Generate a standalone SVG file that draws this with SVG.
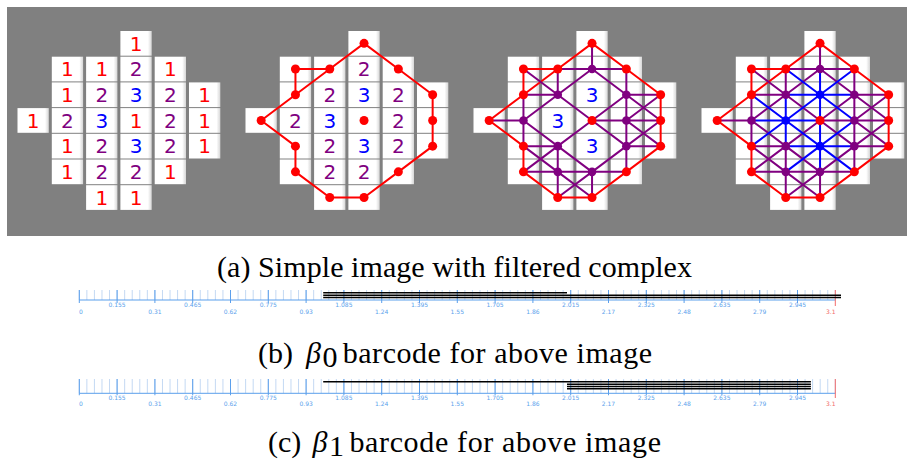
<svg xmlns="http://www.w3.org/2000/svg" xmlns:xlink="http://www.w3.org/1999/xlink" width="907" height="465" viewBox="0 0 907 465">
<style>
.cell{fill:url(#cg)}
.d{font-family:"DejaVu Sans",sans-serif;font-size:20px;text-anchor:middle}
.r{fill:#ff0000}.p{fill:#800080}.b{fill:#0000ff}
.er{fill:none;stroke:#ff0000;stroke-width:2;stroke-linejoin:round;stroke-linecap:round}
.ep{fill:none;stroke:#800080;stroke-width:2;stroke-linejoin:round;stroke-linecap:round}
.eb{fill:none;stroke:#0000ff;stroke-width:2;stroke-linejoin:round;stroke-linecap:round}
.cap{font-family:"Liberation Serif",serif;font-size:30px;fill:#000}
.lab{font-family:"DejaVu Sans",sans-serif;font-size:6px;fill:#5b9fec;text-anchor:middle}
.bar{stroke:#000;stroke-width:1.5}
</style>
<defs>
<linearGradient id="cg" x1="0" x2="1" y1="0" y2="0"><stop offset="0.88" stop-color="#ffffff"/><stop offset="1" stop-color="#d6d6d6"/></linearGradient>
<g id="grid">
<rect class="cell" x="102.9" y="31" width="31.3" height="24.7"/>
<rect class="cell" x="34.3" y="56.7" width="31.3" height="24.7"/><rect class="cell" x="68.6" y="56.7" width="31.3" height="24.7"/><rect class="cell" x="102.9" y="56.7" width="31.3" height="24.7"/><rect class="cell" x="137.2" y="56.7" width="31.3" height="24.7"/>
<rect class="cell" x="34.3" y="82.4" width="31.3" height="24.7"/><rect class="cell" x="68.6" y="82.4" width="31.3" height="24.7"/><rect class="cell" x="102.9" y="82.4" width="31.3" height="24.7"/><rect class="cell" x="137.2" y="82.4" width="31.3" height="24.7"/><rect class="cell" x="171.5" y="82.4" width="31.3" height="24.7"/>
<rect class="cell" x="0" y="108.1" width="31.3" height="24.7"/><rect class="cell" x="34.3" y="108.1" width="31.3" height="24.7"/><rect class="cell" x="68.6" y="108.1" width="31.3" height="24.7"/><rect class="cell" x="102.9" y="108.1" width="31.3" height="24.7"/><rect class="cell" x="137.2" y="108.1" width="31.3" height="24.7"/><rect class="cell" x="171.5" y="108.1" width="31.3" height="24.7"/>
<rect class="cell" x="34.3" y="133.8" width="31.3" height="24.7"/><rect class="cell" x="68.6" y="133.8" width="31.3" height="24.7"/><rect class="cell" x="102.9" y="133.8" width="31.3" height="24.7"/><rect class="cell" x="137.2" y="133.8" width="31.3" height="24.7"/><rect class="cell" x="171.5" y="133.8" width="31.3" height="24.7"/>
<rect class="cell" x="34.3" y="159.5" width="31.3" height="24.7"/><rect class="cell" x="68.6" y="159.5" width="31.3" height="24.7"/><rect class="cell" x="102.9" y="159.5" width="31.3" height="24.7"/><rect class="cell" x="137.2" y="159.5" width="31.3" height="24.7"/>
<rect class="cell" x="68.6" y="185.2" width="31.3" height="24.7"/><rect class="cell" x="102.9" y="185.2" width="31.3" height="24.7"/>
</g>
<path id="eR" class="er" d="M118.55,43.35L152.85,69.05L187.15,94.75L187.15,146.15L152.85,171.85L118.55,197.55L84.25,197.55L49.95,171.85L49.95,146.15L15.65,120.45L49.95,94.75L84.25,69.05ZM84.25,69.05L49.95,69.05L49.95,94.75"/>
<path id="eP" class="ep" d="M84.25,69.05H152.85M49.95,94.75H84.25M152.85,94.75H187.15M15.65,120.45H49.95M118.55,120.45H187.15M49.95,146.15H84.25M152.85,146.15H187.15M49.95,171.85H152.85M49.95,94.75V146.15M84.25,69.05V94.75M84.25,146.15V197.55M118.55,43.35V69.05M118.55,171.85V197.55M152.85,69.05V171.85M49.95,69.05L84.25,94.75M118.55,69.05L152.85,94.75M84.25,94.75L118.55,120.45M152.85,94.75L187.15,120.45M49.95,120.45L84.25,146.15L118.55,171.85M118.55,120.45L152.85,146.15M152.85,120.45L187.15,146.15M49.95,146.15L84.25,171.85L118.55,197.55M118.55,69.05L84.25,94.75L49.95,120.45M152.85,94.75L118.55,120.45L84.25,146.15L49.95,171.85M187.15,94.75L152.85,120.45M187.15,120.45L152.85,146.15L118.55,171.85L84.25,197.55"/>
<path id="eB" class="eb" d="M84.25,94.75H152.85M49.95,120.45H118.55M84.25,146.15H152.85M84.25,94.75V146.15M118.55,69.05V171.85M84.25,69.05L118.55,94.75L152.85,120.45M49.95,94.75L84.25,120.45L118.55,146.15L152.85,171.85M152.85,69.05L118.55,94.75L84.25,120.45L49.95,146.15M152.85,120.45L118.55,146.15L84.25,171.85"/>
<g id="vR" class="r">
<circle cx="118.55" cy="43.35" r="4.5"/><circle cx="49.95" cy="69.05" r="4.5"/><circle cx="84.25" cy="69.05" r="4.5"/><circle cx="152.85" cy="69.05" r="4.5"/><circle cx="49.95" cy="94.75" r="4.5"/><circle cx="187.15" cy="94.75" r="4.5"/><circle cx="15.65" cy="120.45" r="4.5"/><circle cx="118.55" cy="120.45" r="4.5"/><circle cx="187.15" cy="120.45" r="4.5"/><circle cx="49.95" cy="146.15" r="4.5"/><circle cx="187.15" cy="146.15" r="4.5"/><circle cx="49.95" cy="171.85" r="4.5"/><circle cx="152.85" cy="171.85" r="4.5"/><circle cx="84.25" cy="197.55" r="4.5"/><circle cx="118.55" cy="197.55" r="4.5"/>
</g>
<g id="vP" class="p">
<circle cx="118.55" cy="69.05" r="4.3"/><circle cx="84.25" cy="94.75" r="4.3"/><circle cx="152.85" cy="94.75" r="4.3"/><circle cx="49.95" cy="120.45" r="4.3"/><circle cx="152.85" cy="120.45" r="4.3"/><circle cx="84.25" cy="146.15" r="4.3"/><circle cx="152.85" cy="146.15" r="4.3"/><circle cx="84.25" cy="171.85" r="4.3"/><circle cx="118.55" cy="171.85" r="4.3"/>
</g>
<g id="vB" class="b">
<circle cx="118.55" cy="94.75" r="4.3"/><circle cx="84.25" cy="120.45" r="4.3"/><circle cx="118.55" cy="146.15" r="4.3"/>
</g>
</defs>
<rect x="7" y="7" width="900" height="229" fill="#808080"/>

<g id="panel1" transform="translate(17.5,0)">
<use xlink:href="#grid" href="#grid"/>
<g class="d">
<text class="r" x="118.55" y="50.65">1</text>
<text class="r" x="49.95" y="76.35">1</text><text class="r" x="84.25" y="76.35">1</text><text class="p" x="118.55" y="76.35">2</text><text class="r" x="152.85" y="76.35">1</text>
<text class="r" x="49.95" y="102.05">1</text><text class="p" x="84.25" y="102.05">2</text><text class="b" x="118.55" y="102.05">3</text><text class="p" x="152.85" y="102.05">2</text><text class="r" x="187.15" y="102.05">1</text>
<text class="r" x="15.65" y="127.75">1</text><text class="p" x="49.95" y="127.75">2</text><text class="b" x="84.25" y="127.75">3</text><text class="r" x="118.55" y="127.75">1</text><text class="p" x="152.85" y="127.75">2</text><text class="r" x="187.15" y="127.75">1</text>
<text class="r" x="49.95" y="153.45">1</text><text class="p" x="84.25" y="153.45">2</text><text class="b" x="118.55" y="153.45">3</text><text class="p" x="152.85" y="153.45">2</text><text class="r" x="187.15" y="153.45">1</text>
<text class="r" x="49.95" y="179.15">1</text><text class="p" x="84.25" y="179.15">2</text><text class="p" x="118.55" y="179.15">2</text><text class="r" x="152.85" y="179.15">1</text>
<text class="r" x="84.25" y="204.85">1</text><text class="r" x="118.55" y="204.85">1</text>
</g>
</g>

<g id="panel2" transform="translate(245.5,0)">
<use xlink:href="#grid" href="#grid"/>
<g class="d">
<text class="p" x="118.55" y="76.35">2</text>
<text class="p" x="84.25" y="102.05">2</text><text class="b" x="118.55" y="102.05">3</text><text class="p" x="152.85" y="102.05">2</text>
<text class="p" x="49.95" y="127.75">2</text><text class="b" x="84.25" y="127.75">3</text><text class="p" x="152.85" y="127.75">2</text>
<text class="p" x="84.25" y="153.45">2</text><text class="b" x="118.55" y="153.45">3</text><text class="p" x="152.85" y="153.45">2</text>
<text class="p" x="84.25" y="179.15">2</text><text class="p" x="118.55" y="179.15">2</text>
</g>
<g id="p2-edges"><use xlink:href="#eR" href="#eR"/></g>
<use xlink:href="#vR" href="#vR"/>
</g>

<g id="panel3" transform="translate(473.5,0)">
<use xlink:href="#grid" href="#grid"/>
<g class="d">
<text class="b" x="118.55" y="102.05">3</text><text class="b" x="84.25" y="127.75">3</text><text class="b" x="118.55" y="153.45">3</text>
</g>
<g id="p3-edges"><use xlink:href="#eR" href="#eR"/><use xlink:href="#eP" href="#eP"/></g>
<use xlink:href="#vR" href="#vR"/><use xlink:href="#vP" href="#vP"/>
</g>

<g id="panel4" transform="translate(701.5,0)">
<use xlink:href="#grid" href="#grid"/>
<g id="p4-edges"><use xlink:href="#eR" href="#eR"/><use xlink:href="#eP" href="#eP"/><use xlink:href="#eB" href="#eB"/></g>
<use xlink:href="#vR" href="#vR"/><use xlink:href="#vP" href="#vP"/><use xlink:href="#vB" href="#vB"/>
</g>

<text class="cap" x="217" y="277" textLength="475" lengthAdjust="spacing">(a) Simple image with filtered complex</text>

<g id="barcode-b">
<line x1="78.8" y1="295" x2="836" y2="295" stroke="#c4d9f3" stroke-width="10" stroke-dasharray="1 6.56"/>
<line x1="78.8" y1="296.5" x2="830" y2="296.5" stroke="#5b9fec" stroke-width="13" stroke-dasharray="1 36.8"/>
<line x1="79.3" y1="300" x2="835.3" y2="300" stroke="#5b9fec" stroke-width="1"/>
<line x1="835.3" y1="290" x2="835.3" y2="306" stroke="#f26b6b" stroke-width="1"/>
<g class="lab">
<text x="79" y="313.9" text-anchor="start">0</text>
<text x="117.1" y="307.2">0.155</text><text x="154.9" y="313.9">0.31</text><text x="192.7" y="307.2">0.465</text><text x="230.5" y="313.9">0.62</text>
<text x="268.3" y="307.2">0.775</text><text x="306.1" y="313.9">0.93</text><text x="343.9" y="307.2">1.085</text><text x="381.7" y="313.9">1.24</text>
<text x="419.5" y="307.2">1.395</text><text x="457.3" y="313.9">1.55</text><text x="495.1" y="307.2">1.705</text><text x="532.9" y="313.9">1.86</text>
<text x="570.7" y="307.2">2.015</text><text x="608.5" y="313.9">2.17</text><text x="646.3" y="307.2">2.325</text><text x="684.1" y="313.9">2.48</text>
<text x="721.9" y="307.2">2.635</text><text x="759.7" y="313.9">2.79</text><text x="797.5" y="307.2">2.945</text>
<text x="835.5" y="313.9" text-anchor="end" fill="#f26b6b">3.1</text>
</g>
<line class="bar" x1="323.2" y1="292.7" x2="567" y2="292.7"/>
<line class="bar" x1="323.2" y1="295.3" x2="841" y2="295.3"/>
<line class="bar" x1="323.2" y1="297.5" x2="841" y2="297.5"/>
</g>

<text class="cap" x="258" y="363">(b)</text>
<text class="cap" x="306" y="363" font-style="italic">β</text>
<text class="cap" x="322.5" y="367" font-size="18">0</text>
<text class="cap" x="342.7" y="363" textLength="309.3" lengthAdjust="spacing">barcode for above image</text>

<g id="barcode-c">
<line x1="78.8" y1="386.2" x2="836" y2="386.2" stroke="#c4d9f3" stroke-width="14.3" stroke-dasharray="1 6.56"/>
<line x1="78.8" y1="387.2" x2="830" y2="387.2" stroke="#5b9fec" stroke-width="16.3" stroke-dasharray="1 36.8"/>
<line x1="79.3" y1="393.3" x2="835.3" y2="393.3" stroke="#5b9fec" stroke-width="1"/>
<line x1="835.3" y1="379" x2="835.3" y2="398" stroke="#f26b6b" stroke-width="1"/>
<g class="lab">
<text x="79" y="406.2" text-anchor="start">0</text>
<text x="117.1" y="399.9">0.155</text><text x="154.9" y="406.2">0.31</text><text x="192.7" y="399.9">0.465</text><text x="230.5" y="406.2">0.62</text>
<text x="268.3" y="399.9">0.775</text><text x="306.1" y="406.2">0.93</text><text x="343.9" y="399.9">1.085</text><text x="381.7" y="406.2">1.24</text>
<text x="419.5" y="399.9">1.395</text><text x="457.3" y="406.2">1.55</text><text x="495.1" y="399.9">1.705</text><text x="532.9" y="406.2">1.86</text>
<text x="570.7" y="399.9">2.015</text><text x="608.5" y="406.2">2.17</text><text x="646.3" y="399.9">2.325</text><text x="684.1" y="406.2">2.48</text>
<text x="721.9" y="399.9">2.635</text><text x="759.7" y="406.2">2.79</text><text x="797.5" y="399.9">2.945</text>
<text x="835.5" y="406.2" text-anchor="end" fill="#f26b6b">3.1</text>
</g>
<line class="bar" x1="323.2" y1="381.8" x2="810.9" y2="381.8"/>
<line class="bar" x1="567" y1="384.2" x2="810.9" y2="384.2"/>
<line class="bar" x1="567" y1="386.5" x2="810.9" y2="386.5"/>
<line class="bar" x1="567" y1="388.8" x2="810.9" y2="388.8"/>
</g>

<text class="cap" x="268" y="452">(c)</text>
<text class="cap" x="312.5" y="452" font-style="italic">β</text>
<text class="cap" x="329" y="456" font-size="18">1</text>
<text class="cap" x="349.4" y="452" textLength="311.6" lengthAdjust="spacing">barcode for above image</text>
</svg>
